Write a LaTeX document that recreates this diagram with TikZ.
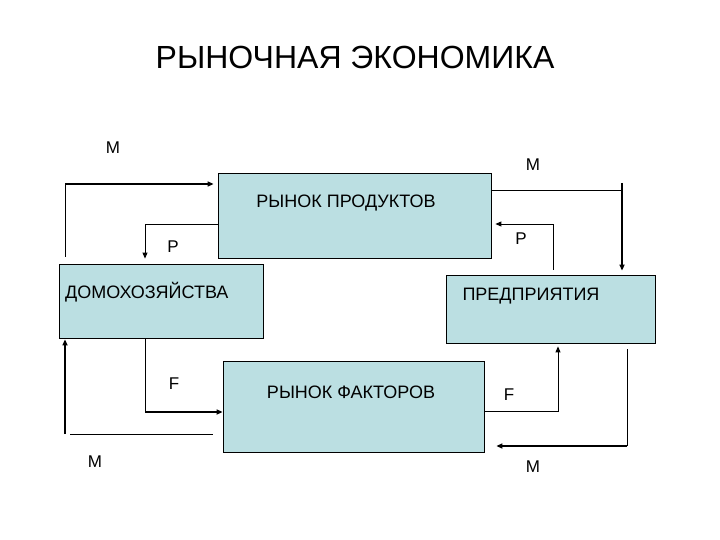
\documentclass[tikz,border=0pt]{standalone}
\usepackage{fontspec}
\setmainfont{Liberation Sans}
\usetikzlibrary{arrows.meta, positioning, calc}
\definecolor{boxteal}{RGB}{187,223,226}
\tikzset{
  market/.style={draw=black, line width=0.8pt, fill=boxteal, rectangle, inner sep=0pt},
  boxtext/.style={font=\fontsize{18}{20}\selectfont, inner sep=0pt},
  flowlabel/.style={font=\fontsize{17}{19}\selectfont, inner sep=0pt},
  thinline/.style={line width=0.9pt},
  thickline/.style={line width=1.8pt},
  tip/.style={-{Triangle[length=6pt,width=5pt]}}
}

\begin{document}
\begin{tikzpicture}[x=1pt, y=-1pt]
        \useasboundingbox (0,0) rectangle (720,540);
        \node[font=\fontsize{32}{35}\selectfont] (title) at (355,57) {РЫНОЧНАЯ ЭКОНОМИКА};
        % boxes
        \node[market, minimum width=273pt, minimum height=85pt] (prod) at (354.5,215.5) {};
        \node[market, minimum width=204pt, minimum height=74pt] (hh) at (161,301) {};
        \node[market, minimum width=209pt, minimum height=68pt] (firm) at (550.5,309) {};
        \node[market, minimum width=261pt, minimum height=91pt] (fact) at (353.5,406.5) {};
        \node[boxtext] (prodtxt) at (346,203) {РЫНОК ПРОДУКТОВ};
        \node[boxtext, anchor=west] (hhtxt) at (65,292) {ДОМОХОЗЯЙСТВА};
        \node[boxtext] (firmtxt) at (531,296) {ПРЕДПРИЯТИЯ};
        \node[boxtext] (facttxt) at (351,392) {РЫНОК ФАКТОРОВ};
        % bends
        \coordinate (mtl) at (65,184);
        \coordinate (mtr) at (622,190);
        \coordinate (pl) at (145,224);
        \coordinate (pr) at (553,224);
        \coordinate (fl) at (145,412);
        \coordinate (mbl) at (65,434);
        \coordinate (fr) at (558,411);
        \coordinate (mbr) at (627,446);
        % money, households -> product market
        \draw[thinline] ([yshift=7pt]mtl |- hh.north) -- (mtl);
        \draw[thickline, tip, shorten >=4pt] (mtl) -- (mtl -| prod.west);
        % money, product market -> firms
        \draw[thinline] (prod.east |- mtr) -- (mtr);
        \draw[thickline, tip, shorten >=4pt] ([yshift=7pt]mtr) -- (mtr |- firm.north);
        % products
        \draw[thinline, tip, shorten >=5pt] (pl -| prod.west) -- (pl) -- (pl |- hh.north);
        \draw[thinline, tip, shorten <=5pt, shorten >=4pt] (pr |- firm.north) -- (pr) -- (pr -| prod.east);
        % factors
        \draw[thinline] (fl |- hh.south) -- (fl);
        \draw[thickline, tip] (fl) -- (fl -| fact.west);
        \draw[thinline, tip, shorten >=3pt] (fr -| fact.east) -- (fr) -- (fr |- firm.south);
        % money, factor market -> households
        \draw[thinline] ([xshift=-10pt]mbl -| fact.west) -- ([xshift=5pt]mbl);
        \draw[thickline, tip, shorten >=1pt] (mbl) -- (mbl |- hh.south);
        % money, firms -> factor market
        \draw[thinline] ([yshift=-6pt]mbr |- firm.south) -- (mbr);
        \draw[thickline, tip, shorten >=12pt] (mbr) -- (mbr -| fact.east);
        % labels
        \node[flowlabel] (m1) at (113,148) {M};
        \node[flowlabel] (m2) at (533,165) {M};
        \node[flowlabel] (p1) at (173,247) {P};
        \node[flowlabel] (p2) at (521,239) {P};
        \node[flowlabel] (f1) at (174,384) {F};
        \node[flowlabel] (f2) at (509,395) {F};
        \node[flowlabel] (m3) at (95,462) {M};
        \node[flowlabel] (m4) at (533,467) {M};
      \end{tikzpicture}
\end{document}
